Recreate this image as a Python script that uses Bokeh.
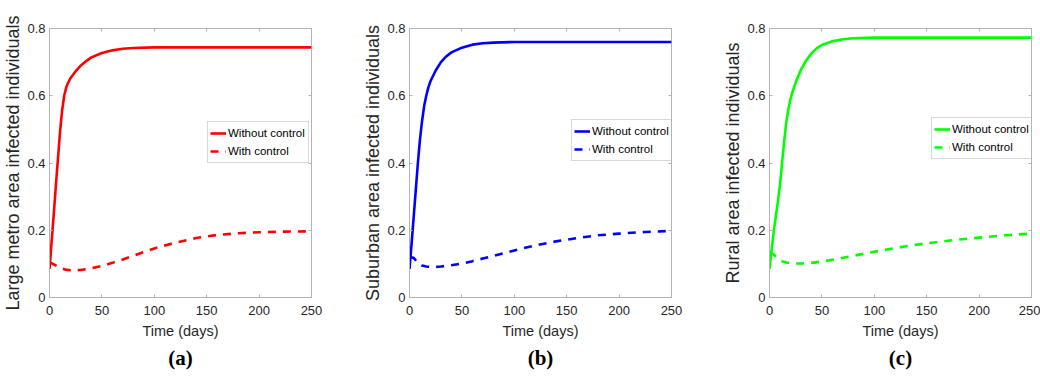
from bokeh.plotting import figure
from bokeh.models import LinearAxis, Title, Range1d, FixedTicker
from bokeh.layouts import row
from bokeh.embed import file_html
from bokeh.resources import INLINE

# ---- data ----
t_solid_a = [0, 2, 4, 6, 8, 10, 12, 14, 16, 18, 20, 25, 30, 35, 40, 50, 60, 70, 80, 100, 150, 200, 250]
without_a = [0.085, 0.165, 0.245, 0.33, 0.41, 0.49, 0.555, 0.60, 0.625, 0.64, 0.652, 0.673, 0.69, 0.703,
             0.714, 0.727, 0.735, 0.74, 0.742, 0.744, 0.744, 0.744, 0.744]
t_dash_a = [0, 5, 10, 15, 20, 25, 30, 40, 50, 60, 70, 80, 90, 100, 120, 140, 160, 180, 200, 225, 250]
with_a = [0.105, 0.097, 0.088, 0.083, 0.081, 0.081, 0.082, 0.087, 0.094, 0.103, 0.113, 0.124, 0.135,
          0.146, 0.163, 0.177, 0.186, 0.191, 0.194, 0.196, 0.197]

t_solid_b = [0, 2, 4, 6, 8, 10, 12, 14, 16, 18, 20, 25, 30, 35, 40, 50, 60, 70, 80, 100, 150, 200, 250]
without_b = [0.085, 0.16, 0.24, 0.32, 0.40, 0.47, 0.525, 0.57, 0.60, 0.625, 0.643, 0.675, 0.70, 0.717,
             0.729, 0.743, 0.752, 0.756, 0.758, 0.76, 0.76, 0.76, 0.76]
t_dash_b = [0, 4, 8, 12, 16, 20, 25, 30, 40, 50, 60, 70, 80, 90, 100, 120, 140, 160, 180, 200, 225, 250]
with_b = [0.12, 0.118, 0.103, 0.095, 0.092, 0.091, 0.091, 0.092, 0.096, 0.101, 0.108, 0.116, 0.124, 0.132,
          0.14, 0.155, 0.167, 0.177, 0.185, 0.19, 0.195, 0.198]

t_solid_c = [0, 2, 4, 6, 8, 10, 12, 14, 16, 18, 20, 22, 25, 30, 35, 40, 45, 50, 60, 70, 80, 100, 150, 200, 250]
without_c = [0.085, 0.14, 0.195, 0.24, 0.285, 0.335, 0.40, 0.465, 0.52, 0.56, 0.59, 0.612, 0.64, 0.677,
             0.705, 0.726, 0.741, 0.751, 0.762, 0.768, 0.771, 0.773, 0.773, 0.773, 0.773]
t_dash_c = [0, 4, 8, 12, 16, 20, 25, 30, 40, 50, 60, 70, 80, 90, 100, 120, 140, 160, 180, 200, 225, 250]
with_c = [0.135, 0.128, 0.115, 0.108, 0.104, 0.102, 0.101, 0.101, 0.103, 0.107, 0.112, 0.118, 0.124, 0.13,
          0.136, 0.147, 0.157, 0.165, 0.172, 0.178, 0.185, 0.19]

x_ticks = [0, 50, 100, 150, 200, 250]
y_ticks = [0, 0.2, 0.4, 0.6, 0.8]
series_labels = ["Without control", "With control"]
time_label = "Time (days)"

FRAME = "#b3b3b3"
TEXT = "#262626"
SANS = "Liberation Sans"


def panel(letter, ylabel, ts, ys, td, yd, color, width, right, loc):
    p = figure(width=width, height=380, x_range=Range1d(0, 250), y_range=Range1d(0, 0.8),
               output_backend="svg", toolbar_location=None,
               min_border_left=47, min_border_right=right, min_border_top=28, min_border_bottom=83)
    p.line(ts, ys, color=color, line_width=2.6, legend_label=series_labels[0])
    p.line(td, yd, color=color, line_width=2.6, line_dash="8 7", legend_label=series_labels[1])
    p.xgrid.visible = False
    p.ygrid.visible = False
    p.outline_line_color = FRAME
    p.background_fill_color = "white"
    p.border_fill_color = "white"

    for ax, ticks in ((p.xaxis[0], x_ticks), (p.yaxis[0], y_ticks)):
        ax.ticker = FixedTicker(ticks=ticks)
        ax.axis_line_color = FRAME
        ax.major_tick_line_color = FRAME
        ax.major_tick_in = 3
        ax.major_tick_out = 0
        ax.minor_tick_line_color = None
        ax.major_label_text_font = SANS
        ax.major_label_text_font_size = "13px"
        ax.major_label_text_color = TEXT
        ax.axis_label_text_color = TEXT
        ax.axis_label_text_font_style = "normal"
    p.yaxis[0].major_label_overrides = {0: "0"}
    p.xaxis[0].major_label_standoff = 8
    p.yaxis[0].major_label_standoff = 4

    p.xaxis[0].axis_label = time_label
    p.xaxis[0].axis_label_text_font = SANS
    p.xaxis[0].axis_label_text_font_size = "14.5px"
    p.xaxis[0].axis_label_standoff = 5

    p.yaxis[0].axis_label = ylabel
    p.yaxis[0].axis_label_text_font = SANS
    p.yaxis[0].axis_label_text_font_size = "18px"
    p.yaxis[0].axis_label_standoff = 1

    for side, ticks in (("above", x_ticks), ("right", y_ticks)):
        ax = LinearAxis(ticker=FixedTicker(ticks=ticks), major_label_text_font_size="1px",
                        major_label_text_color=None,
                        major_tick_in=3, major_tick_out=0, major_label_standoff=0,
                        minor_tick_line_color=None, axis_line_color=None,
                        major_tick_line_color=FRAME)
        p.add_layout(ax, side)

    t = Title(text=letter, align="center", text_font="Liberation Serif", text_font_size="21px",
              text_font_style="bold", text_color="black", standoff=5)
    p.add_layout(t, "below")

    lg = p.legend[0]
    lg.location = loc
    lg.border_line_color = FRAME
    lg.border_line_width = 1
    lg.padding = 2
    lg.spacing = 0
    lg.margin = 0
    lg.glyph_width = 16
    lg.glyph_height = 18
    lg.label_height = 18
    lg.label_width = 78
    lg.label_standoff = 2
    lg.label_text_font = SANS
    lg.label_text_font_size = "11.5px"
    lg.label_text_color = "black"
    lg.background_fill_alpha = 1
    return p


pa = panel("(a)", "Large metro area infected individuals", t_solid_a, without_a, t_dash_a, with_a,
           "#ff0000", 360, 49, (158, 134))
pb = panel("(b)", "Suburban area infected individuals", t_solid_b, without_b, t_dash_b, with_b,
           "#0000ff", 360, 49, (162, 136))
pc = panel("(c)", "Rural area infected individuals", t_solid_c, without_c, t_dash_c, with_c,
           "#00ff00", 320, 9, (162, 138))

layout = row(pa, pb, pc)
open("out.html", "w").write(file_html(layout, INLINE))
